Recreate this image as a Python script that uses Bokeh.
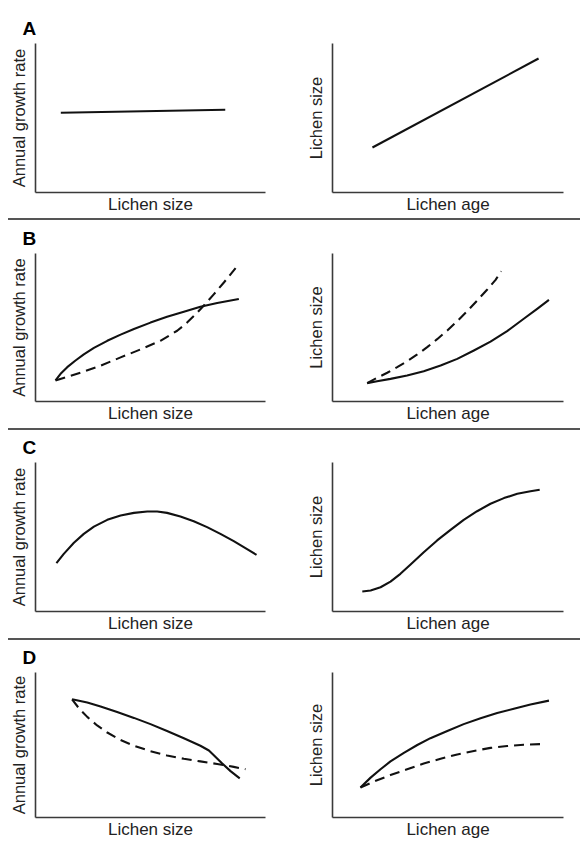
from bokeh.plotting import figure
from bokeh.models import Range1d, FixedTicker, Div
from bokeh.layouts import column, row
from bokeh.embed import file_html
from bokeh.resources import INLINE

# ---- data (axes are unitless 0..10) ----
letters = ["A", "B", "C", "D"]
left_xlabel = "Lichen size"
left_ylabel = "Annual growth rate"
right_xlabel = "Lichen age"
right_ylabel = "Lichen size"

# Row A
a_left_x = [1.1, 8.25]
a_left_y = [5.35, 5.55]
a_right_x = [1.73, 8.92]
a_right_y = [3.02, 8.99]

# Row B
b_left_solid_x = [0.87, 1.09, 1.38, 1.74, 2.10, 2.54, 3.12, 3.70, 4.28, 5.00, 5.72, 6.45, 7.17, 7.90, 8.84]
b_left_solid_y = [1.42, 1.87, 2.32, 2.77, 3.18, 3.62, 4.10, 4.52, 4.90, 5.33, 5.72, 6.07, 6.40, 6.66, 6.93]
b_left_dash_x = [0.87, 1.38, 2.10, 2.83, 3.70, 4.57, 5.43, 6.16, 6.59, 7.03, 7.32, 7.75, 8.19, 8.70]
b_left_dash_y = [1.42, 1.66, 2.02, 2.42, 2.98, 3.52, 4.10, 4.78, 5.33, 6.00, 6.49, 7.24, 8.04, 9.01]
b_right_solid_x = [1.50, 1.93, 2.51, 3.23, 3.95, 4.68, 5.40, 6.12, 6.84, 7.56, 8.28, 8.86, 9.37]
b_right_solid_y = [1.24, 1.37, 1.53, 1.76, 2.05, 2.43, 2.88, 3.45, 4.05, 4.75, 5.59, 6.26, 6.87]
b_right_dash_x = [1.50, 1.93, 2.37, 2.80, 3.23, 3.67, 4.10, 4.53, 4.97, 5.40, 5.83, 6.26, 6.70, 7.06, 7.30]
b_right_dash_y = [1.24, 1.60, 1.94, 2.32, 2.72, 3.18, 3.67, 4.21, 4.80, 5.43, 6.10, 6.82, 7.57, 8.22, 8.80]

# Row C
c_left_x = [0.91, 1.23, 1.67, 2.10, 2.54, 3.12, 3.70, 4.28, 4.86, 5.29, 5.72, 6.30, 6.88, 7.46, 8.04, 8.62, 9.20, 9.61]
c_left_y = [3.24, 3.87, 4.61, 5.21, 5.70, 6.15, 6.44, 6.62, 6.71, 6.71, 6.62, 6.38, 6.06, 5.66, 5.21, 4.72, 4.18, 3.80]
c_right_x = [1.29, 1.65, 2.08, 2.51, 2.94, 3.38, 3.95, 4.53, 5.11, 5.68, 6.26, 6.84, 7.42, 8.00, 8.57, 8.97]
c_right_y = [1.34, 1.41, 1.63, 2.01, 2.53, 3.15, 3.98, 4.77, 5.48, 6.15, 6.73, 7.23, 7.61, 7.90, 8.07, 8.17]

# Row D
d_left_solid_x = [1.59, 2.25, 2.83, 3.55, 4.28, 5.00, 5.72, 6.45, 7.17, 7.54, 7.83, 8.12, 8.48, 8.88]
d_left_solid_y = [8.15, 7.93, 7.66, 7.27, 6.87, 6.44, 5.97, 5.47, 4.95, 4.62, 4.17, 3.72, 3.20, 2.70]
d_left_dash_x = [1.59, 1.88, 2.25, 2.68, 3.12, 3.70, 4.28, 5.00, 5.72, 6.45, 7.17, 7.90, 8.62, 9.13]
d_left_dash_y = [8.15, 7.55, 6.94, 6.35, 5.86, 5.34, 4.95, 4.57, 4.28, 4.05, 3.87, 3.69, 3.49, 3.33]
d_right_solid_x = [1.21, 1.65, 2.08, 2.51, 3.09, 3.67, 4.24, 4.97, 5.68, 6.41, 7.13, 7.85, 8.57, 9.37]
d_right_solid_y = [2.07, 2.75, 3.33, 3.87, 4.46, 5.00, 5.47, 5.97, 6.44, 6.85, 7.21, 7.50, 7.79, 8.06]
d_right_dash_x = [1.21, 1.79, 2.51, 3.23, 3.95, 4.68, 5.40, 6.12, 6.84, 7.56, 8.28, 9.18]
d_right_dash_y = [2.07, 2.48, 2.93, 3.33, 3.72, 4.05, 4.35, 4.59, 4.80, 4.93, 5.02, 5.07]

FONT = "Liberation Sans"
AXIS_COLOR = "#3a3a3a"
CURVE_COLOR = "#111111"


def make_panel(letter, xlabel, ylabel, is_left, height, top, bottom):
    if is_left:
        width, mbl, mbr = 290, 35, 25
    else:
        width, mbl, mbr = 290, 42, 17
    p = figure(width=width, height=height,
               x_range=Range1d(0, 10), y_range=Range1d(0, 10),
               toolbar_location=None, output_backend="svg",
               min_border_left=mbl, min_border_right=mbr,
               min_border_top=top, min_border_bottom=bottom,
               title=letter)
    p.grid.visible = False
    p.outline_line_color = None
    p.background_fill_color = "white"
    p.border_fill_color = "white"
    for ax in p.axis:
        ax.ticker = FixedTicker(ticks=[])
        ax.major_tick_out = 0
        ax.major_tick_in = 0
        ax.minor_tick_out = 0
        ax.minor_tick_in = 0
        ax.major_label_standoff = 0
        ax.axis_line_color = AXIS_COLOR
        ax.axis_line_width = 1.6
        ax.axis_label_text_font = FONT
        ax.axis_label_text_font_style = "normal"
        ax.axis_label_text_color = "#222222"
    p.xaxis.axis_label = xlabel
    p.xaxis.axis_label_text_font_size = "17px"
    p.xaxis.axis_label_standoff = 2
    p.yaxis.axis_label = ylabel
    p.yaxis.axis_label_text_font_size = "16.5px"
    p.yaxis.axis_label_standoff = 8
    if letter:
        p.title.text_font = FONT
        p.title.text_font_size = "19px"
        p.title.text_font_style = "bold"
        p.title.text_color = "#000000"
        p.title.align = "left"
        p.title.offset = -13
        p.title.standoff = 9
    return p


def solid(p, x, y):
    p.line(x, y, line_width=2.1, line_color=CURVE_COLOR, line_join="round")


def dashed(p, x, y):
    p.line(x, y, line_width=2.1, line_color=CURVE_COLOR, line_dash="10 6",
           line_join="round")


def separator():
    return Div(text="", width=572, height=2, margin=(0, 0, 0, 8),
               styles={"background-color": "#555555"})


heights = [218, 208, 208, 201]
tops = [43, 33, 32, 32]
bottoms = [26, 27, 27, 21]

panels = []
for i, letter in enumerate(letters):
    pl = make_panel(letter, left_xlabel, left_ylabel, True,
                    heights[i], tops[i], bottoms[i])
    pr = make_panel(None, right_xlabel, right_ylabel, False,
                    heights[i], tops[i], bottoms[i])
    panels.append((pl, pr))

# Row A
solid(panels[0][0], a_left_x, a_left_y)
solid(panels[0][1], a_right_x, a_right_y)
# Row B
solid(panels[1][0], b_left_solid_x, b_left_solid_y)
dashed(panels[1][0], b_left_dash_x, b_left_dash_y)
solid(panels[1][1], b_right_solid_x, b_right_solid_y)
dashed(panels[1][1], b_right_dash_x, b_right_dash_y)
# Row C
solid(panels[2][0], c_left_x, c_left_y)
solid(panels[2][1], c_right_x, c_right_y)
# Row D
solid(panels[3][0], d_left_solid_x, d_left_solid_y)
dashed(panels[3][0], d_left_dash_x, d_left_dash_y)
solid(panels[3][1], d_right_solid_x, d_right_solid_y)
dashed(panels[3][1], d_right_dash_x, d_right_dash_y)

items = []
for i, (pl, pr) in enumerate(panels):
    if i > 0:
        items.append(separator())
    items.append(row(pl, pr, spacing=0))

layout = column(*items, spacing=0)

open("out.html", "w").write(file_html(layout, INLINE))
